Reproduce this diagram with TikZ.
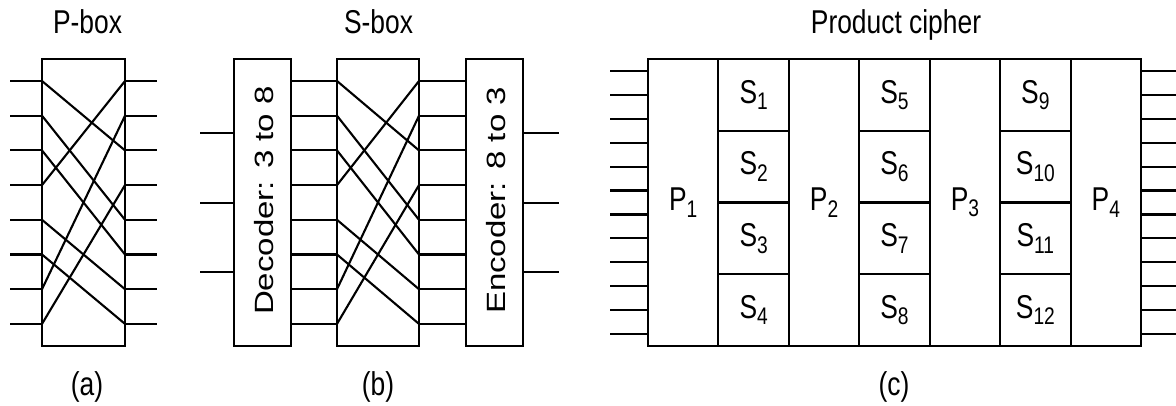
\documentclass[tikz,border=0pt]{standalone}
\usepackage{fontspec}
\setmainfont{Liberation Sans}
\usepackage{graphicx}
\newcommand{\nt}[1]{\scalebox{0.8}[1]{#1}}
\newcommand{\sbs}[2]{#1\raisebox{-6.5pt}{\fontsize{24}{24}\selectfont #2}}
\begin{document}
\begin{tikzpicture}[x=1pt,y=-1pt,
  wire/.style={line width=2.1pt},
  blk/.style={draw, line width=2.1pt, inner sep=0pt, outer sep=0pt},
  lbl/.style={inner sep=0pt, font=\fontsize{33}{38}\selectfont}]
\useasboundingbox (0,0) rectangle (1176,405);

% ---------- (a) P-box ----------
\node[blk, minimum width=83pt, minimum height=287pt] (pbox) at (83.5,202.5) {};
\foreach \i in {1,...,8} {
  \pgfmathsetmacro\yy{81+(\i-1)*34.7}
  \coordinate (pa\i) at (42,\yy);
  \coordinate (pb\i) at (125,\yy);
  \coordinate (pl\i) at (10,\yy);
  \coordinate (pr\i) at (157,\yy);
  \draw[wire] (pl\i) -- (pa\i);
  \draw[wire] (pb\i) -- (pr\i);
}
\foreach \i/\o in {1/3,2/5,3/6,4/1,5/7,6/8,7/2,8/4}
  \draw[wire] (pa\i) -- (pb\o);
\node[lbl, anchor=base] (tpa) at (87.5,33) {\nt{P-box}};
\node[lbl, anchor=base] (la) at (87,395) {\nt{(a)}};

% ---------- (b) S-box ----------
\node[blk, minimum width=57pt, minimum height=287pt] (dec) at (262.5,202.5) {};
\node[lbl, rotate=90] (dect) at (264,200.5) {\scalebox{1}[0.8]{Decoder: 3 to 8}};
\node[blk, minimum width=82pt, minimum height=287pt] (sbox) at (378,202.5) {};
\node[blk, minimum width=57pt, minimum height=287pt] (enc) at (494.5,202.5) {};
\node[lbl, rotate=90] (enct) at (496,200.5) {\scalebox{1}[0.8]{Encoder: 8 to 3}};
\foreach \i in {1,...,8} {
  \pgfmathsetmacro\yy{81+(\i-1)*34.7}
  \coordinate (d\i) at (291,\yy);
  \coordinate (sa\i) at (337,\yy);
  \coordinate (sb\i) at (419,\yy);
  \coordinate (e\i) at (466,\yy);
  \draw[wire] (d\i) -- (sa\i);
  \draw[wire] (sb\i) -- (e\i);
}
\foreach \i/\o in {1/3,2/5,3/6,4/1,5/7,6/8,7/2,8/4}
  \draw[wire] (sa\i) -- (sb\o);
\foreach \j/\yy in {1/133,2/203,3/272} {
  \coordinate (di\j) at (200,\yy);
  \coordinate (dj\j) at (234,\yy);
  \coordinate (ei\j) at (523,\yy);
  \coordinate (ej\j) at (559,\yy);
  \draw[wire] (di\j) -- (dj\j);
  \draw[wire] (ei\j) -- (ej\j);
}
\node[lbl, anchor=base] (tsb) at (378.5,33) {\nt{S-box}};
\node[lbl, anchor=base] (lb) at (378,395) {\nt{(b)}};

% ---------- (c) Product cipher ----------
\foreach \p in {1,...,4} {
  \pgfmathsetmacro\cx{648+(2*\p-1.5)*70.43}
  \node[blk, lbl, draw, line width=2.1pt, minimum width=70.43pt, minimum height=287pt]
    (P\p) at (\cx,202.5) {\nt{\sbs{P}{\p}}};
}
\foreach \c in {1,2,3} {
  \foreach \r in {1,...,4} {
    \pgfmathtruncatemacro\n{(\c-1)*4+\r}
    \pgfmathsetmacro\cx{648+(2*\c-0.5)*70.43}
    \pgfmathsetmacro\cy{59+(\r-0.5)*71.75}
    \node[blk, lbl, draw, line width=2.1pt, minimum width=70.43pt, minimum height=71.75pt]
      (S\n) at (\cx,\cy) {\nt{\sbs{S}{\n}}};
  }
}
\foreach \i in {1,...,12} {
  \pgfmathsetmacro\yy{59+(\i-0.5)*23.917}
  \coordinate (ci\i) at (610,\yy);
  \coordinate (cj\i) at (648,\yy);
  \coordinate (co\i) at (1141,\yy);
  \coordinate (cp\i) at (1176,\yy);
  \draw[wire] (ci\i) -- (cj\i);
  \draw[wire] (co\i) -- (cp\i);
}
\node[lbl, anchor=base] (tpc) at (896,33) {\nt{Product cipher}};
\node[lbl, anchor=base] (lc) at (894,395) {\nt{(c)}};
\end{tikzpicture}
\end{document}
